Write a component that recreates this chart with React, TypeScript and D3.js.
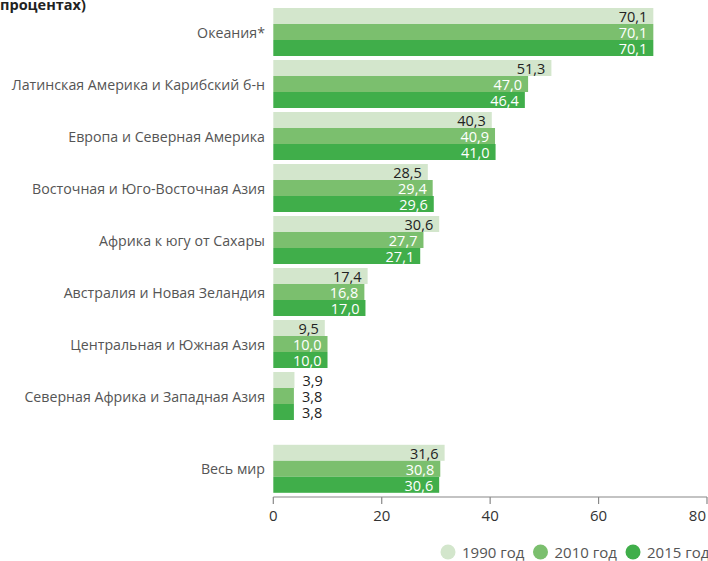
import React from "react";
import * as d3 from "d3";

const regions = [
  "Океания*",
  "Латинская Америка и Карибский б-н",
  "Европа и Северная Америка",
  "Восточная и Юго-Восточная Азия",
  "Африка к югу от Сахары",
  "Австралия и Новая Зеландия",
  "Центральная и Южная Азия",
  "Северная Африка и Западная Азия",
  "Весь мир",
];
const years = ["1990 год", "2010 год", "2015 год"];
const v1990 = [70.1, 51.3, 40.3, 28.5, 30.6, 17.4, 9.5, 3.9, 31.6];
const v2010 = [70.1, 47.0, 40.9, 29.4, 27.7, 16.8, 10.0, 3.8, 30.8];
const v2015 = [70.1, 46.4, 41.0, 29.6, 27.1, 17.0, 10.0, 3.8, 30.6];
const xTicks = [0, 20, 40, 60, 80];
const colors = ["#d3e6cc", "#7bbf6e", "#40ae4a"];
const labelColors = ["#222", "#fff", "#fff"];

const W = 708;
const H = 561;
const FONT = "'Open Sans', sans-serif";

export default function App() {
  const x = d3.scaleLinear().domain([0, 80]).range([273.3, 707]);
  // slot positions: regions 0..7, world slightly further apart
  const slots = regions.map((_, i) => (i < 8 ? i : 8.4));
  const y = d3.scaleLinear().domain([0, 8]).range([8, 424]);
  const barH = 16;
  const series = [v1990, v2010, v2015];
  const fmt = (v: number) => d3.format(".1f")(v).replace(".", ",");
  const axisY = 497;

  return (
    <svg
      width={W}
      height={H}
      style={{ position: "absolute", left: 0, top: 0, background: "#fff" }}
      fontFamily={FONT}
    >
      <text x={0} y={10} fontSize={14.5} fontWeight={700} fill="#222">
        процентах)
      </text>
      {regions.map((r, i) => {
        const top = y(slots[i]);
        return (
          <g key={r}>
            <text
              x={265}
              y={top + 24}
              textAnchor="end"
              dominantBaseline="central"
              fontSize={14.2}
              fill="#555"
            >
              {r}
            </text>
            {series.map((s, k) => {
              const v = s[i];
              const x0 = x(0);
              const x1 = x(v);
              const by = top + k * barH;
              const inside = x1 - x0 > 35;
              return (
                <g key={k}>
                  <rect x={x0} y={by} width={x1 - x0} height={barH} fill={colors[k]} />
                  <text
                    x={inside ? x1 - 6 : x1 + 8}
                    y={by + barH / 2 + 0.5}
                    textAnchor={inside ? "end" : "start"}
                    dominantBaseline="central"
                    fontSize={14.5}
                    fill={inside ? labelColors[k] : "#222"}
                  >
                    {fmt(v)}
                  </text>
                </g>
              );
            })}
          </g>
        );
      })}
      <line x1={x(0)} x2={x(80)} y1={axisY} y2={axisY} stroke="#888" strokeWidth={1.2} />
      {xTicks.map((t, i) => (
        <g key={t}>
          <line x1={x(t)} x2={x(t)} y1={axisY} y2={axisY + 7} stroke="#888" strokeWidth={1.2} />
          <text
            x={i === xTicks.length - 1 ? x(t) - 1 : x(t)}
            y={521}
            textAnchor={i === xTicks.length - 1 ? "end" : "middle"}
            fontSize={15}
            fill="#333"
          >
            {t}
          </text>
        </g>
      ))}
      {years.map((yr, k) => {
        const cx = 448 + k * 92.5;
        return (
          <g key={yr}>
            <circle cx={cx} cy={552} r={7.5} fill={colors[k]} />
            <text x={cx + 14} y={552} dominantBaseline="central" fontSize={15} fill="#555">
              {yr}
            </text>
          </g>
        );
      })}
    </svg>
  );
}
